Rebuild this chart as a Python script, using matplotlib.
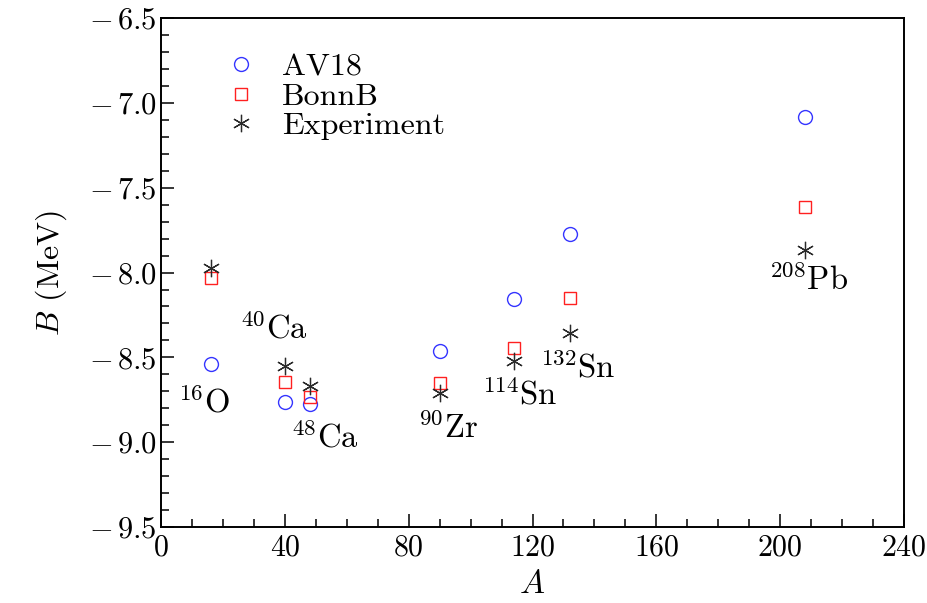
import matplotlib
matplotlib.use("Agg")
import matplotlib.pyplot as plt
from matplotlib.ticker import MultipleLocator, FuncFormatter

plt.rcParams["font.family"] = "serif"
plt.rcParams["font.serif"] = ["cmr10", "DejaVu Serif"]
plt.rcParams["mathtext.fontset"] = "cm"
plt.rcParams["axes.formatter.use_mathtext"] = True

# Mass numbers of the nuclei
mass_number = [16, 40, 48, 90, 114, 132, 208]
# Binding energy per nucleon (MeV)
b_av18 = [-8.541, -8.761, -8.775, -8.462, -8.158, -7.775, -7.085]
b_bonnb = [-8.032, -8.643, -8.731, -8.649, -8.446, -8.152, -7.612]
b_exp = [-7.976, -8.551, -8.667, -8.710, -8.523, -8.355, -7.867]

nucleus_labels = [r"$^{16}\mathrm{O}$", r"$^{40}\mathrm{Ca}$", r"$^{48}\mathrm{Ca}$",
                  r"$^{90}\mathrm{Zr}$", r"$^{114}\mathrm{Sn}$", r"$^{132}\mathrm{Sn}$",
                  r"$^{208}\mathrm{Pb}$"]
label_pos_a = [13.9, 36.6, 53.0, 92.6, 115.9, 134.6, 209.0]
label_pos_b = [-8.763, -8.327, -8.97, -8.916, -8.72, -8.56, -8.04]


def y_fmt(v, pos):
    if v < 0:
        return r"$-\,%.1f$" % abs(v)
    return r"$%.1f$" % v


fig = plt.figure(figsize=(9.27, 6.03), dpi=100)
ax = fig.add_axes([0.1737, 0.126, 0.8015, 0.844])

ax.plot(mass_number, b_av18, linestyle="none", marker="o", markersize=10,
        markerfacecolor="none", markeredgecolor="#3535ff", markeredgewidth=1.0,
        label="AV18")
ax.plot(mass_number, b_bonnb, linestyle="none", marker="s", markersize=8.5,
        markerfacecolor="none", markeredgecolor="#ff2020", markeredgewidth=1.0,
        label="BonnB")
ax.plot(mass_number, b_exp, linestyle="none", marker=(6, 2, 0), markersize=12.5,
        markeredgecolor="#2a2a2a", markeredgewidth=0.9, color="#2a2a2a",
        label="Experiment")

for txt, xa, yb in zip(nucleus_labels, label_pos_a, label_pos_b):
    ax.text(xa, yb, txt, fontsize=23.5, ha="center", va="center")

ax.set_xlim(0, 240)
ax.set_ylim(-9.5, -6.5)
ax.xaxis.set_major_locator(MultipleLocator(40))
ax.xaxis.set_minor_locator(MultipleLocator(10))
ax.yaxis.set_major_locator(MultipleLocator(0.5))
ax.yaxis.set_minor_locator(MultipleLocator(0.1))
ax.yaxis.set_major_formatter(FuncFormatter(y_fmt))
ax.xaxis.set_major_formatter(FuncFormatter(lambda v, p: r"$%d$" % v))

ax.tick_params(which="both", direction="in", top=False, right=False, width=1.1,
               labelsize=22)
ax.tick_params(axis="x", labelsize=21.5)
ax.tick_params(which="major", length=9.5)
ax.tick_params(axis="x", which="major", pad=5)
ax.tick_params(axis="y", which="major", pad=3)
ax.tick_params(which="minor", length=5.5)
for sp in ax.spines.values():
    sp.set_linewidth(1.4)

ax.set_xlabel(r"$A$", fontsize=24, labelpad=6)
ax.set_ylabel(r"$B$ (MeV)", fontsize=23, labelpad=14)

ax.legend(loc="upper left", bbox_to_anchor=(0.047, 0.957), frameon=False,
          fontsize=23, handletextpad=0.3, labelspacing=0.04, borderaxespad=0)

fig.savefig("out.png", dpi=100)
